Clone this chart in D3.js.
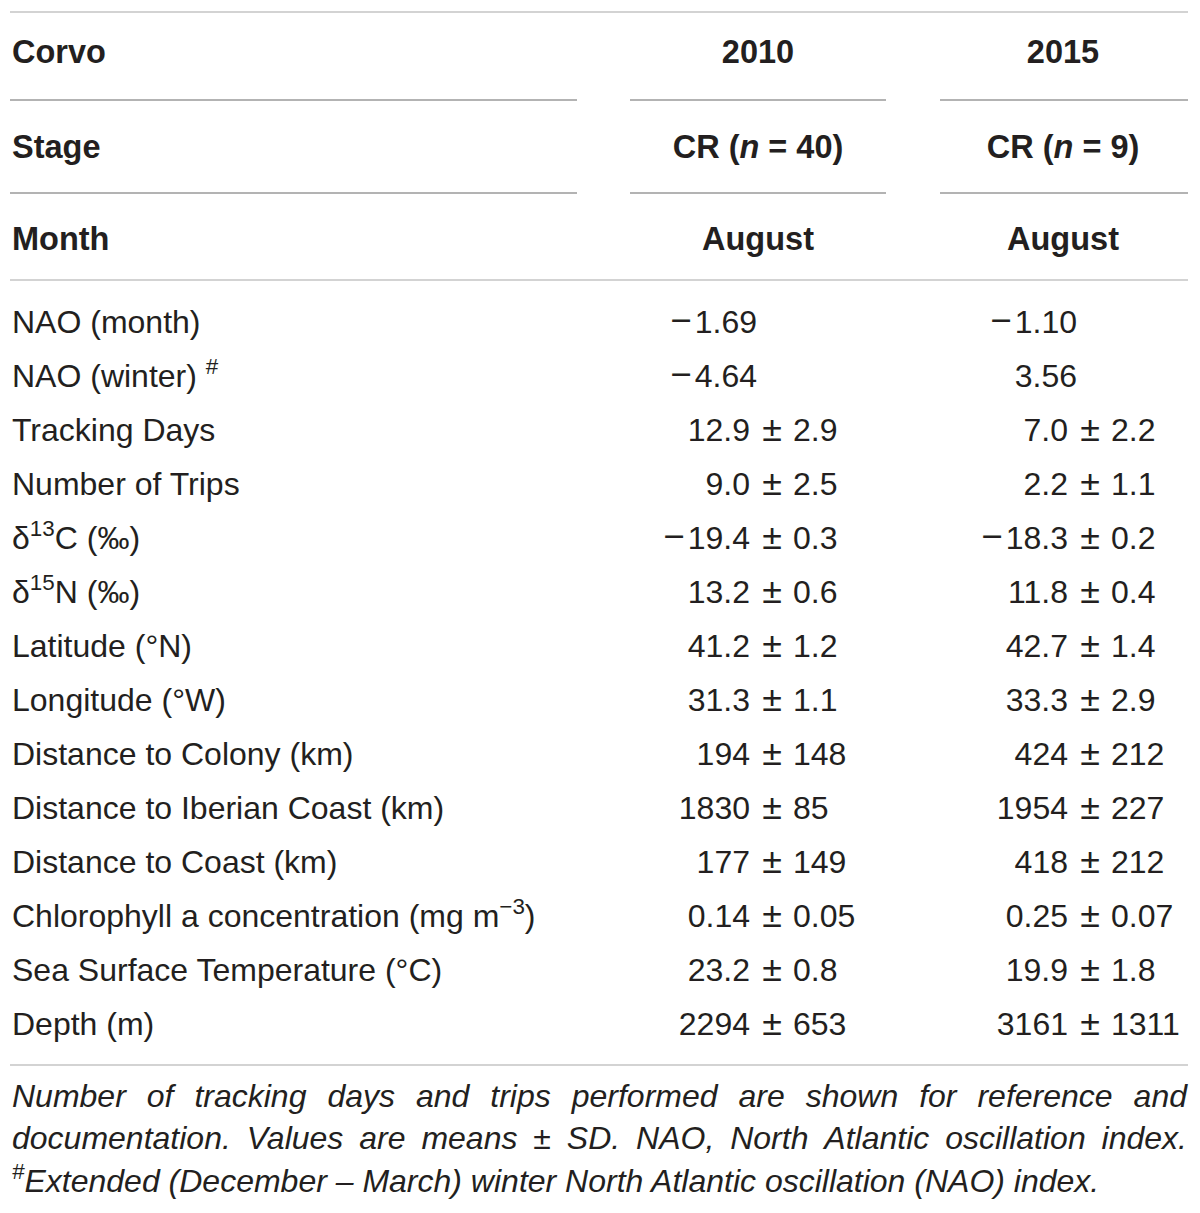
<!DOCTYPE html>
<html>
<head>
<meta charset="utf-8">
<script src="https://cdn.jsdelivr.net/npm/d3@7/dist/d3.min.js"></script>
<style>
  html, body { margin: 0; padding: 0; background: #fff; }
  svg { display: block; }
</style>
</head>
<body>
<svg id="chart" width="1200" height="1213"></svg>
<script>
// ---- Data ----
const headerTitle = ["Corvo", "2010", "2015"];
const headerStage = ["Stage", "CR (^n^ = 40)", "CR (^n^ = 9)"];
const headerMonth = ["Month", "August", "August"];

const rowLabels = [
  "NAO (month)",
  "NAO (winter) ^{#}",
  "Tracking Days",
  "Number of Trips",
  "δ^{13}C (‰)",
  "δ^{15}N (‰)",
  "Latitude (°N)",
  "Longitude (°W)",
  "Distance to Colony (km)",
  "Distance to Iberian Coast (km)",
  "Distance to Coast (km)",
  "Chlorophyll a concentration (mg m^{−3})",
  "Sea Surface Temperature (°C)",
  "Depth (m)"
];

const values2010 = [
  "−1.69", "−4.64", "12.9 ± 2.9", "9.0 ± 2.5", "−19.4 ± 0.3", "13.2 ± 0.6",
  "41.2 ± 1.2", "31.3 ± 1.1", "194 ± 148", "1830 ± 85", "177 ± 149",
  "0.14 ± 0.05", "23.2 ± 0.8", "2294 ± 653"
];
const values2015 = [
  "−1.10", "3.56", "7.0 ± 2.2", "2.2 ± 1.1", "−18.3 ± 0.2", "11.8 ± 0.4",
  "42.7 ± 1.4", "33.3 ± 2.9", "424 ± 212", "1954 ± 227", "418 ± 212",
  "0.25 ± 0.07", "19.9 ± 1.8", "3161 ± 1311"
];

const footnoteLines = [
  "Number of tracking days and trips performed are shown for reference and",
  "documentation. Values are means ± SD. NAO, North Atlantic oscillation index.",
  "^{#}Extended (December – March) winter North Atlantic oscillation (NAO) index."
];

// ---- Layout ----
const svg = d3.select("#chart");
const FONT = "'Liberation Sans', Arial, Helvetica, sans-serif";
const TEXT = "#231f20";
const bodySize = 32;
const left = 12, right = 1188;

const colCenter = [null, 758, 1063];
const pmX = [null, 772, 1090];        // x of the ± sign per value column
const plainRight = [null, 757, 1077];   // right edge for values without ±

const y = d3.scalePoint().domain(d3.range(rowLabels.length)).range([333, 1035]);

// Rules
function rule(x1, x2, yy, color) {
  svg.append("line").attr("x1", x1).attr("x2", x2).attr("y1", yy).attr("y2", yy)
    .attr("stroke", color).attr("stroke-width", 1.6);
}
rule(10, 1188, 12, "#c4c4c4");
[100, 193].forEach(yy => {
  rule(10, 577, yy, "#9a9a9a");
  rule(630, 886, yy, "#9a9a9a");
  rule(940, 1188, yy, "#9a9a9a");
});
rule(10, 1188, 280, "#c4c4c4");
rule(10, 1188, 1065, "#c4c4c4");

// Rich text helper: ^{..} superscript, ^..^ italic
function rich(sel, str, size) {
  const re = /(\^\{[^}]*\}|\^[^^]*\^)/g;
  const parts = str.split(re).filter(p => p !== "");
  const up = size * 0.42;
  let raised = false;
  parts.forEach(p => {
    if (p.startsWith("^{")) {
      sel.append("tspan").text(p.slice(2, -1)).attr("font-size", size * 0.7)
        .attr("dy", -up);
      raised = true;
    } else if (p.startsWith("^")) {
      const t = sel.append("tspan").text(p.slice(1, -1)).attr("font-style", "italic");
      if (raised) { t.attr("dy", up); raised = false; }
    } else {
      const t = sel.append("tspan").text(p);
      if (raised) { t.attr("dy", up); raised = false; }
    }
  });
}

// Number with a slightly wider minus, as in the reference typesetting
function numText(sel, str) {
  if (str.startsWith("−")) {
    sel.append("tspan").attr("font-size", bodySize * 1.15).text("−");
    sel.append("tspan").attr("dx", 3).text(str.slice(1));
  } else {
    sel.text(str);
  }
}

// Header rows
const headerRows = [[headerTitle, 63], [headerStage, 158], [headerMonth, 250]];
headerRows.forEach(([cells, by]) => {
  cells.forEach((c, i) => {
    const t = svg.append("text")
      .attr("x", i === 0 ? left : colCenter[i])
      .attr("y", by)
      .attr("text-anchor", i === 0 ? "start" : "middle")
      .attr("font-family", FONT).attr("font-weight", "bold")
      .attr("font-size", 32.5).attr("fill", TEXT);
    rich(t, c, 32.5);
  });
});

// Body rows
rowLabels.forEach((lab, r) => {
  const t = svg.append("text").attr("x", left).attr("y", y(r))
    .attr("font-family", FONT).attr("font-size", bodySize).attr("fill", TEXT);
  rich(t, lab, bodySize);
  [values2010, values2015].forEach((vals, k) => {
    const col = k + 1;
    const v = vals[r];
    const g = svg.append("g").attr("font-family", FONT)
      .attr("font-size", bodySize).attr("fill", TEXT);
    if (v.includes("±")) {
      const [m, s] = v.split(" ± ");
      numText(g.append("text").attr("x", pmX[col] - 22).attr("y", y(r))
        .attr("text-anchor", "end"), m);
      g.append("text").attr("x", pmX[col]).attr("y", y(r))
        .attr("text-anchor", "middle").attr("font-size", bodySize * 1.12).text("±");
      g.append("text").attr("x", pmX[col] + 21).attr("y", y(r))
        .attr("text-anchor", "start").text(s);
    } else {
      numText(g.append("text").attr("x", plainRight[col]).attr("y", y(r))
        .attr("text-anchor", "end"), v);
    }
  });
});

// Footnote (first two lines justified)
const footSize = 32;
const footY = [1107, 1149, 1192];
footnoteLines.forEach((line, i) => {
  if (i < 2) {
    const words = line.split(" ");
    const g = svg.append("g").attr("font-family", FONT).attr("font-style", "italic")
      .attr("font-size", footSize).attr("fill", TEXT);
    const nodes = words.map(w => g.append("text").attr("y", footY[i]).text(w));
    const widths = nodes.map(n => n.node().getComputedTextLength());
    const total = d3.sum(widths);
    const gap = (right - 1 - left - total) / (words.length - 1);
    let x = left;
    nodes.forEach((n, j) => { n.attr("x", x); x += widths[j] + gap; });
  } else {
    const t = svg.append("text").attr("x", left).attr("y", footY[i])
      .attr("font-family", FONT).attr("font-style", "italic")
      .attr("font-size", footSize).attr("fill", TEXT);
    rich(t, line, footSize);
  }
});
</script>
</body>
</html>
